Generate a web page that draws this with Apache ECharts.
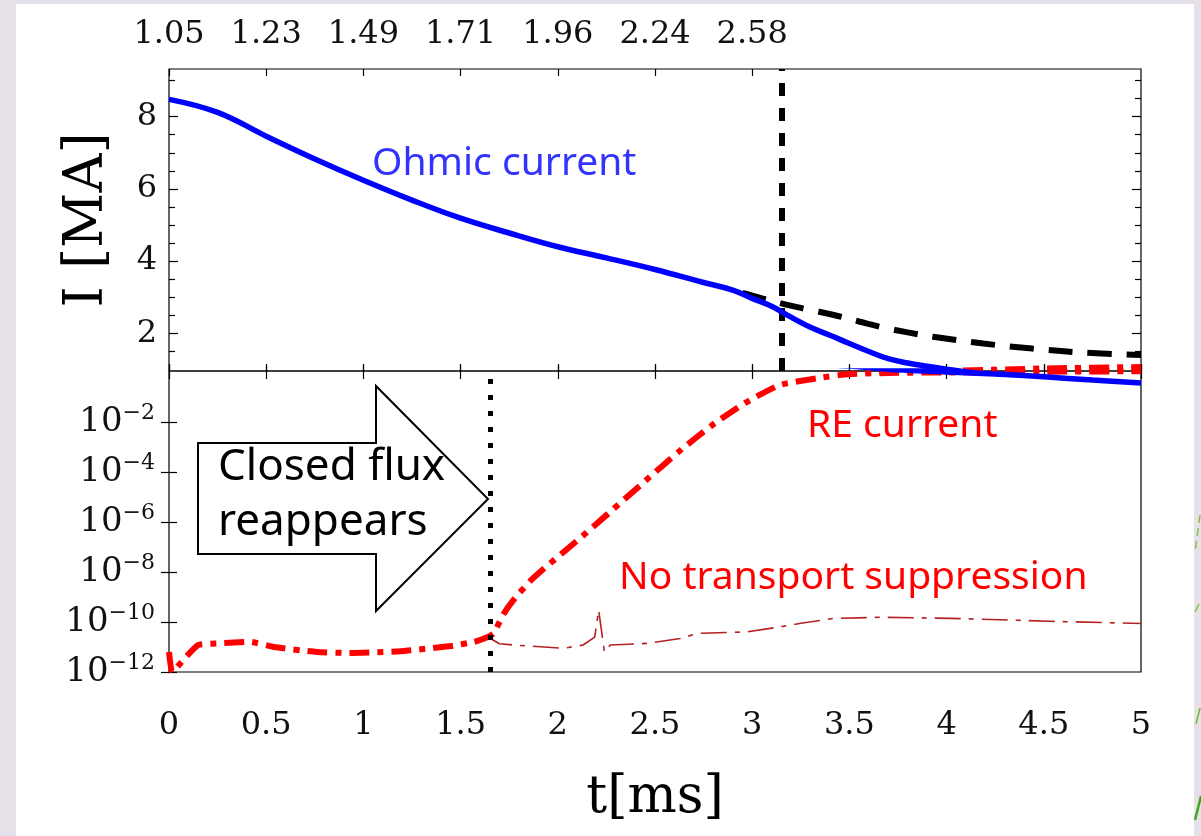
<!DOCTYPE html>
<html>
<head>
<meta charset="utf-8">
<script src="https://cdn.jsdelivr.net/npm/echarts@6/dist/echarts.min.js"></script>
<style>
  html, body { margin: 0; padding: 0; background: #ffffff; }
  #chart { width: 1201px; height: 836px; }
</style>
</head>
<body>
<div id="chart"></div>
<script>
// Ohmic plasma current [MA] versus time [ms]
const ohmicT = [0, 0.25, 0.5, 0.75, 1.0, 1.25, 1.5, 1.75, 2.0, 2.25, 2.5, 2.75, 2.9, 3.0, 3.1, 3.2, 3.3, 3.4, 3.5, 3.6, 3.7, 3.8, 3.9, 4.0, 4.25, 4.5, 4.75, 5.0];
const ohmicI = [8.48, 8.12, 7.46, 6.83, 6.24, 5.69, 5.19, 4.78, 4.40, 4.09, 3.77, 3.41, 3.20, 2.97, 2.75, 2.45, 2.17, 1.95, 1.72, 1.50, 1.30, 1.18, 1.09, 1.01, 0.83, 0.64, 0.48, 0.36];

// Total current without runaway generation [MA]
const totalT = [2.95, 3.05, 3.18, 3.3, 3.42, 3.55, 3.67, 3.8, 3.93, 4.19, 4.44, 4.7, 5.0];
const totalI = [3.12, 2.97, 2.79, 2.65, 2.51, 2.33, 2.17, 2.03, 1.91, 1.72, 1.58, 1.47, 1.40];

// Runaway electron current [MA]
const runawayT = [0, 0.017, 0.076, 0.15, 0.25, 0.42, 0.54, 0.76, 0.93, 1.19, 1.45, 1.57, 1.64, 1.67, 1.72, 1.78, 1.86, 1.95, 2.11, 2.28, 2.45, 2.62, 2.79, 2.96, 3.14, 3.33, 3.5, 3.75, 4.0, 4.5, 5.0];
const runawayI = [6.3e-12, 1.0e-12, 3.2e-12, 1.2e-11, 1.4e-11, 1.6e-11, 1.0e-11, 6.3e-12, 5.8e-12, 6.8e-12, 1.1e-11, 1.6e-11, 2.5e-11, 3.5e-11, 2.0e-10, 9.0e-10, 4.5e-9, 1.9e-8, 2.1e-7, 3.0e-6, 4.4e-5, 6.3e-4, 7.1e-3, 5.6e-2, 0.30, 0.56, 0.83, 0.93, 0.96, 1.03, 1.07];

// Runaway current without transport suppression [MA]
const noSuppT = [1.64, 1.70, 1.77, 2.03, 2.13, 2.19, 2.21, 2.24, 2.27, 2.46, 2.63, 2.72, 2.97, 3.14, 3.25, 3.42, 3.67, 4.02, 4.53, 5.0];
const noSuppI = [2.5e-11, 1.35e-11, 1.2e-11, 8.9e-12, 1.2e-11, 2.5e-11, 3.0e-10, 6.3e-12, 1.2e-11, 1.4e-11, 2.2e-11, 3.5e-11, 4.0e-11, 6.3e-11, 8.9e-11, 1.4e-10, 1.55e-10, 1.4e-10, 1.07e-10, 8.7e-11];

// Event times [ms]
const tReappear = 1.648;
const tThreshold = 3.145;

// Secondary time-axis labels along the top
const topTickT = [0, 0.5, 1, 1.5, 2, 2.5, 3];
const topTickLabels = ['1.05', '1.23', '1.49', '1.71', '1.96', '2.24', '2.58'];

// Current axis ticks (linear panel) and decade exponents (log panel)
const currentMajorTicks = [2, 4, 6, 8];
const currentMinorTicks = [1.5, 2.5, 3, 3.5, 4.5, 5, 5.5, 6.5, 7, 7.5, 8.5, 9];
const logDecades = [-12, -10, -8, -6, -4, -2];

const pairs = (t, v) => t.map((x, i) => [x, v[i]]);
const logPairs = (t, v) => t.map((x, i) => [x, Math.log10(v[i])]);

const SERIF = '"DejaVu Serif", serif';
const SANS = '"Noto Sans", "Open Sans", sans-serif';

const LIN_MIN = 0.96, LIN_MAX = 9.32;
const LOG_MIN = -12, LOG_MAX = 0.04;

function timeAxis(grid, pos, extra) {
  return Object.assign({
    type: 'value', gridIndex: grid, position: pos, min: 0, max: 5, interval: 0.5,
    axisLine: { show: false },
    splitLine: { show: false },
    axisTick: { show: true, inside: true, length: 7, lineStyle: { color: '#000', width: 1.2 } },
    axisLabel: { show: false }
  }, extra || {});
}

function linAxis(pos, ticks, len, extra) {
  return Object.assign({
    type: 'value', gridIndex: 0, position: pos, min: LIN_MIN, max: LIN_MAX,
    axisLine: { show: false },
    splitLine: { show: false },
    axisTick: { show: true, inside: true, length: len, customValues: ticks, lineStyle: { color: '#000', width: 1.2 } },
    axisLabel: { show: false }
  }, extra || {});
}

function logAxis(pos, extra) {
  return Object.assign({
    type: 'value', gridIndex: 1, position: pos, min: LOG_MIN, max: LOG_MAX,
    axisLine: { show: false },
    splitLine: { show: false },
    axisTick: { show: true, inside: true, length: 8, customValues: logDecades, lineStyle: { color: '#000', width: 1.2 } },
    axisLabel: { show: false }
  }, extra || {});
}

const chart = echarts.init(document.getElementById('chart'), null, { renderer: 'canvas' });

const option = {
  animation: false,
  backgroundColor: '#ffffff',
  grid: [
    { left: 169, top: 69, width: 972, height: 302, show: true, borderColor: '#000', borderWidth: 1.2, backgroundColor: 'transparent' },
    { left: 169, top: 371, width: 972, height: 301, show: true, borderColor: '#000', borderWidth: 1.2, backgroundColor: 'transparent' }
  ],
  xAxis: [
    timeAxis(0, 'bottom'),
    timeAxis(0, 'top', {
      axisTick: { show: true, inside: true, length: 7, customValues: topTickT, lineStyle: { color: '#000', width: 1.2 } },
      axisLabel: {
        show: true, customValues: topTickT, margin: 18,
        fontFamily: SERIF, fontSize: 32, color: '#111',
        formatter: v => topTickLabels[Math.round(v * 2)]
      }
    }),
    timeAxis(1, 'top'),
    timeAxis(1, 'bottom', {
      axisLabel: { show: true, margin: 38, fontFamily: SERIF, fontSize: 32, color: '#111' },
      name: 't[ms]', nameLocation: 'middle', nameGap: 100,
      nameTextStyle: { fontFamily: SERIF, fontSize: 52, color: '#000' }
    })
  ],
  yAxis: [
    linAxis('left', currentMajorTicks, 9, {
      axisLabel: { show: true, customValues: currentMajorTicks, margin: 12, fontFamily: SERIF, fontSize: 32, color: '#111' },
      name: 'I [MA]', nameLocation: 'middle', nameRotate: 90, nameGap: 54,
      nameTextStyle: { fontFamily: SERIF, fontSize: 54, color: '#000' }
    }),
    linAxis('left', currentMinorTicks, 6),
    linAxis('right', currentMajorTicks, 9),
    linAxis('right', currentMinorTicks, 6),
    logAxis('left', {
      axisLabel: {
        show: true, customValues: logDecades, margin: 14,
        formatter: v => '{b|10}{s|\u2212' + Math.abs(Math.round(v)) + '}',
        rich: {
          b: { fontFamily: SERIF, fontSize: 34, color: '#111', lineHeight: 40, verticalAlign: 'middle' },
          s: { fontFamily: SERIF, fontSize: 22, color: '#111', lineHeight: 20, verticalAlign: 'top' }
        }
      }
    }),
    logAxis('right')
  ],
  series: [
    {
      name: 'Ohmic current', type: 'line', xAxisIndex: 0, yAxisIndex: 0,
      data: pairs(ohmicT, ohmicI), smooth: 0.4, showSymbol: false, clip: true,
      lineStyle: { color: '#0000ff', width: 5.5 }, z: 5,
      markLine: {
        silent: true, symbol: 'none', label: { show: false },
        lineStyle: { color: '#000', width: 6, type: [13, 12] },
        data: [{ xAxis: tThreshold }]
      }
    },
    {
      name: 'Total current', type: 'line', xAxisIndex: 0, yAxisIndex: 0,
      data: pairs(totalT, totalI), smooth: 0.4, showSymbol: false, clip: true,
      lineStyle: { color: '#000', width: 6, type: [24, 15] }, z: 4
    },
    {
      name: 'RE current', type: 'line', xAxisIndex: 0, yAxisIndex: 0,
      data: pairs(runawayT, runawayI), smooth: 0.15, showSymbol: false, clip: true,
      lineStyle: { color: '#ff0000', width: 6, type: [20, 8, 6, 8] }, z: 4
    },
    {
      name: 'Ohmic current (log)', type: 'line', xAxisIndex: 3, yAxisIndex: 4,
      data: logPairs(ohmicT, ohmicI), smooth: 0.4, showSymbol: false, clip: true,
      lineStyle: { color: '#0000ff', width: 5.5 }, z: 5
    },
    {
      name: 'RE current (log)', type: 'line', xAxisIndex: 3, yAxisIndex: 4,
      data: logPairs(runawayT, runawayI), smooth: 0.15, showSymbol: false, clip: true,
      lineStyle: { color: '#ff0000', width: 6, type: [20, 8, 6, 8] }, z: 4,
      markLine: {
        silent: true, symbol: 'none', label: { show: false },
        lineStyle: { color: '#000', width: 5, type: [5, 11] },
        data: [{ xAxis: tReappear }]
      }
    },
    {
      name: 'No transport suppression', type: 'line', xAxisIndex: 3, yAxisIndex: 4,
      data: logPairs(noSuppT, noSuppI), smooth: false, showSymbol: false, clip: true,
      lineStyle: { color: '#b52020', width: 1.6, type: [26, 8, 5, 8] }, z: 3
    }
  ],
  graphic: [
    // slide margins around the figure
    { type: 'rect', shape: { x: 0, y: 0, width: 16, height: 836 }, style: { fill: '#e6e1e9' }, silent: true },
    { type: 'rect', shape: { x: 0, y: 0, width: 1201, height: 4 }, style: { fill: '#e6e1e9' }, silent: true },
    { type: 'rect', shape: { x: 1194, y: 0, width: 7, height: 836 }, style: { fill: '#e6e1e9' }, silent: true },
    { type: 'polyline', shape: { points: [[1200, 515], [1195, 552]] }, style: { stroke: '#7cc24a', lineWidth: 1.5, lineDash: [8, 5] }, silent: true },
    { type: 'polyline', shape: { points: [[1199, 604], [1195, 612]] }, style: { stroke: '#7cc24a', lineWidth: 1.5 }, silent: true },
    { type: 'polyline', shape: { points: [[1200, 708], [1196, 724]] }, style: { stroke: '#6cbf3a', lineWidth: 1.5 }, silent: true },
    { type: 'polyline', shape: { points: [[1201, 796], [1195, 820]] }, style: { stroke: '#3aaa1e', lineWidth: 2.5 }, silent: true },
    // block arrow pointing at the reappearance time
    {
      type: 'polygon', z: 50,
      shape: { points: [[198, 443], [376, 443], [376, 386], [488, 499], [376, 611], [376, 554], [198, 554]] },
      style: { fill: '#ffffff', stroke: '#000', lineWidth: 2 }, silent: true
    },
    { type: 'text', z: 51, style: { text: 'Closed flux', x: 218, y: 467, font: '44px ' + SANS, fill: '#000', textVerticalAlign: 'middle' } },
    { type: 'text', z: 51, style: { text: 'reappears', x: 218, y: 522, font: '44px ' + SANS, fill: '#000', textVerticalAlign: 'middle' } },
    { type: 'text', z: 51, style: { text: 'Ohmic current', x: 372, y: 164, font: '39px ' + SANS, fill: '#3333ff', textVerticalAlign: 'middle' } },
    { type: 'text', z: 51, style: { text: 'RE current', x: 807, y: 426, font: '39px ' + SANS, fill: '#ff0000', textVerticalAlign: 'middle' } },
    { type: 'text', z: 51, style: { text: 'No transport suppression', x: 619, y: 578, font: '39px ' + SANS, fill: '#ff0000', textVerticalAlign: 'middle' } }
  ]
};

chart.setOption(option);
</script>
</body>
</html>
